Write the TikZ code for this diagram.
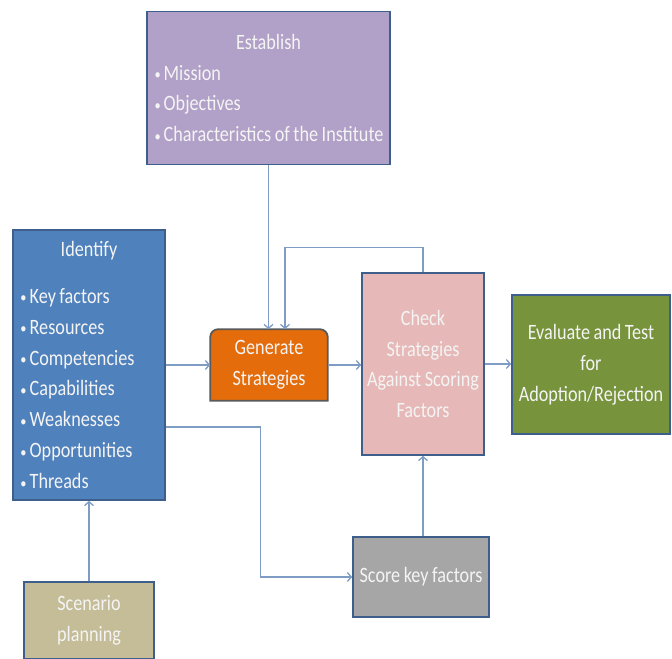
\documentclass[tikz,border=0pt]{standalone}
\usepackage{fontspec}
\setmainfont{Carlito}[FakeStretch=0.83,WordSpace=0.85]
\usetikzlibrary{arrows.meta,backgrounds}

\definecolor{estpurple}{HTML}{B1A0C7}
\definecolor{idblue}{HTML}{4F81BD}
\definecolor{genorange}{HTML}{E46C0A}
\definecolor{chkpink}{HTML}{E6B9B8}
\definecolor{evalgreen}{HTML}{77933C}
\definecolor{scoregray}{HTML}{A6A6A6}
\definecolor{scentan}{HTML}{C4BD97}
\definecolor{rim}{HTML}{3E5F8C}
\definecolor{wire}{HTML}{7F9CC4}
\definecolor{paper}{HTML}{F4F4F4}

\newcommand{\blt}{\raisebox{0.5bp}{\fontsize{15}{15}\selectfont\textbullet}\hspace{3bp}}

\begin{document}
\begin{tikzpicture}[>={Straight Barb[length=4bp,width=9bp]}, x=1bp, y=-1bp,
	box/.style={draw=rim, line width=1.6bp, inner sep=0pt, text=paper,
		font=\fontsize{22}{31}\selectfont, align=center},
	flow/.style={->, wire, line width=1.3bp}]
	\useasboundingbox (0,0) rectangle (672,659);
	
	\node[box, fill=estpurple, minimum width=243bp, minimum height=153bp,
		text width=228bp, align=flush left] (est) at (268.5,88)
		{\makebox[228bp]{Establish}\\ \blt Mission\\ \blt Objectives\\
		 \mbox{\blt Characteristics of the Institute}};
	\node[box, fill=idblue, minimum width=152bp, minimum height=270bp,
		text width=137bp, align=flush left] (id) at (89,365)
		{\makebox[137bp]{Identify}\\[16bp] \blt Key factors\\ \blt Resources\\
		 \blt Competencies\\ \blt Capabilities\\ \blt Weaknesses\\
		 \blt Opportunities\\ \blt Threads};
	\node[box, draw=none, minimum width=116bp, minimum height=70bp] (gen) at (269,365)
		{Generate\\ Strategies};
	\node[box, fill=chkpink, minimum width=122bp, minimum height=182bp] (chk) at (423,364)
		{Check\\ Strategies\\ Against Scoring\\ Factors};
	\node[box, fill=evalgreen, minimum width=158bp, minimum height=139bp] (eval) at (591,364.5)
		{Evaluate and Test\\ for\\ Adoption/Rejection};
	\node[box, fill=scoregray, minimum width=136bp, minimum height=80bp] (score) at (421,577)
		{Score key factors};
	\node[box, fill=scentan, minimum width=130bp, minimum height=77bp] (scen) at (89,620.5)
		{Scenario\\ planning};
	
	\begin{scope}[on background layer]
		\filldraw[fill=genorange, draw=black!65, line width=1.8bp]
			(gen.south west) [rounded corners=8bp] -- (gen.north west) -- (gen.north east)
			[sharp corners] -- (gen.south east) -- cycle;
	\end{scope}
	
	\draw[flow] (est.south) -- (est.south |- gen.north);
	\draw[flow] (chk.north) -- ++(0,-25) -| ([xshift=16bp]gen.north);
	\draw[flow] (id.east) -- (gen.west);
	\draw[flow] (gen.east) -- (gen.east -| chk.west);
	\draw[flow] (chk.east) -- (chk.east -| eval.west);
	\draw[flow] ([yshift=-62bp]id.east) -- ++(95,0) |- (score.west);
	\draw[flow] (chk.south |- score.north) -- (chk.south);
	\draw[flow] (scen.north) -- (scen.north |- id.south);
\end{tikzpicture}
\end{document}
